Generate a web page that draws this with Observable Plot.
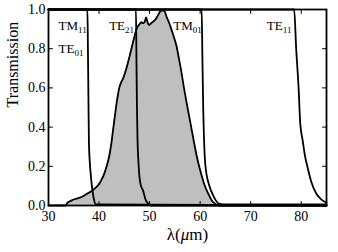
<!DOCTYPE html>
<html>
<head>
<meta charset="utf-8">
<script src="https://cdn.jsdelivr.net/npm/d3@7"></script>
<script src="https://cdn.jsdelivr.net/npm/@observablehq/plot@0.6"></script>
<style>
  html, body { margin: 0; padding: 0; background: #fff; }
  svg { display: block; }
  svg text { font-family: 'Liberation Serif', 'DejaVu Serif', serif !important; font-variant: normal !important; }
</style>
</head>
<body>
<div id="chart"></div>
<script>
// Measured transmission (gray filled)
const measLambda = [30, 33.4, 33.7, 34.5, 35.4, 36.2, 37.0, 37.8, 38.7, 39.4, 40.0, 40.5, 41.0, 41.5, 42.0, 42.4, 42.7, 43.0, 43.35, 43.7, 44.0, 44.4, 44.7, 45.3, 46.0, 46.7, 47.3, 47.7, 48.0, 48.4, 48.7, 49.0, 49.3, 49.6, 49.9, 50.3, 50.8, 51.2, 51.65, 52.3, 52.85, 53.4, 53.9, 54.3, 54.8, 55.3, 55.8, 56.3, 56.8, 57.3, 57.8, 58.3, 58.8, 59.3, 59.8, 60.3, 60.8, 61.3, 61.8, 62.3, 62.8, 63.3, 63.8, 85];
const measTrans  = [0, 0, 0.012, 0.025, 0.034, 0.04, 0.05, 0.062, 0.077, 0.092, 0.11, 0.132, 0.16, 0.2, 0.25, 0.31, 0.37, 0.43, 0.5, 0.56, 0.6, 0.63, 0.645, 0.69, 0.757, 0.83, 0.89, 0.915, 0.925, 0.935, 0.93, 0.935, 0.96, 0.935, 0.92, 0.93, 0.94, 0.95, 0.97, 0.995, 0.995, 0.96, 0.93, 0.9, 0.86, 0.816, 0.75, 0.68, 0.6, 0.527, 0.46, 0.39, 0.32, 0.255, 0.2, 0.153, 0.11, 0.077, 0.05, 0.026, 0.012, 0.004, 0, 0];

// Waveguide mode cutoff curves
const tm11Lambda = [30, 37.7, 37.8, 37.9, 38.0, 38.2, 38.4, 38.7, 39.0, 39.4, 85];
const tm11Trans  = [1, 1, 0.8, 0.55, 0.315, 0.21, 0.145, 0.077, 0.03, 0.005, 0];

const te21Lambda = [30, 47.3, 47.4, 47.5, 47.6, 47.8, 48.0, 48.3, 48.7, 49.2, 49.7, 50.2, 85];
const te21Trans  = [1, 1, 0.75, 0.5, 0.35, 0.22, 0.145, 0.1, 0.077, 0.03, 0.01, 0, 0];

const tm01Lambda = [30, 60.3, 60.45, 60.6, 60.9, 61.2, 61.6, 62.1, 62.6, 63.2, 63.9, 65, 85];
const tm01Trans  = [1, 1, 0.75, 0.51, 0.255, 0.17, 0.12, 0.08, 0.05, 0.022, 0.008, 0.005, 0.005];

const te11Lambda = [30, 78.6, 79.0, 79.5, 79.8, 80.3, 80.7, 81.2, 82.0, 83.0, 84.0, 85];
const te11Trans  = [1, 1, 0.8, 0.59, 0.42, 0.33, 0.26, 0.2, 0.12, 0.06, 0.03, 0.015];

// Mode labels
const labelText   = ["TM_11", "TE_01", "TE_21", "TM_01", "TE_11"];
const labelLambda = [32.0, 32.0, 42.0, 54.7, 73.2];
const labelTrans  = [0.915, 0.80, 0.915, 0.915, 0.915];

// Ticks
const xTicks = [30, 40, 50, 60, 70, 80];
const yTicks = [0.0, 0.2, 0.4, 0.6, 0.8, 1.0];

const toRows = (xs, ys) => xs.map((x, i) => ({x, y: ys[i]}));
const meas = toRows(measLambda, measTrans);
const curves = [toRows(tm11Lambda, tm11Trans), toRows(te21Lambda, te21Trans), toRows(tm01Lambda, tm01Trans), toRows(te11Lambda, te11Trans)];
const labels = labelText.map((t, i) => ({t, x: labelLambda[i], y: labelTrans[i]}));

const tickShape = {draw(context, l) { context.moveTo(0, 0); context.lineTo(0, -l); }};
const font = "'Liberation Serif', 'DejaVu Serif', serif";

const plot = Plot.plot({
  width: 338,
  height: 252,
  marginLeft: 48,
  marginRight: 12,
  marginTop: 9,
  marginBottom: 47,
  style: {fontFamily: font, fontSize: "13px", color: "black", background: "white"},
  x: {domain: [30, 85], label: null},
  y: {domain: [0, 1], label: null},
  marks: [
    Plot.areaY(meas, {x: "x", y: "y", fill: "#bfbfbf", curve: "linear"}),
    Plot.lineY(meas, {x: "x", y: "y", stroke: "black", strokeWidth: 1.8, curve: "monotone-x"}),
    ...curves.map(c => Plot.line(c, {x: "x", y: "y", stroke: "black", strokeWidth: 1.8, curve: "monotone-x"})),
    // inward ticks on all four sides
    Plot.vector(xTicks, {x: d => d, y: 0, length: 4, rotate: 0, anchor: "start", shape: tickShape, stroke: "black", strokeWidth: 1}),
    Plot.vector(xTicks, {x: d => d, y: 1, length: 4, rotate: 180, anchor: "start", shape: tickShape, stroke: "black", strokeWidth: 1}),
    Plot.vector(yTicks, {x: 30, y: d => d, length: 4, rotate: 90, anchor: "start", shape: tickShape, stroke: "black", strokeWidth: 1}),
    Plot.vector(yTicks, {x: 85, y: d => d, length: 4, rotate: -90, anchor: "start", shape: tickShape, stroke: "black", strokeWidth: 1}),
    Plot.axisX(xTicks, {tickSize: 0, tickPadding: 6, tickFormat: d => String(d), fontSize: 14, fontFamily: font, label: null}),
    Plot.axisY(yTicks, {tickSize: 0, tickPadding: 3, tickFormat: d => d.toFixed(1), fontSize: 14, fontFamily: font, label: null}),
    Plot.text(labels, {x: "x", y: "y", text: "t", textAnchor: "start", fontSize: 13, fill: "black", className: "modelabel"}),
    Plot.frame({stroke: "black", strokeWidth: 1.8}),
    Plot.text(["Transmission"], {frameAnchor: "left", dx: -36, rotate: -90, fontSize: 16, fill: "black"}),
    Plot.text(["λ(μm)"], {frameAnchor: "bottom", dy: 34, fontSize: 17, fill: "black", className: "xlabel"})
  ]
});

// Subscripts for mode labels, italic mu
d3.select(plot).selectAll(".modelabel text").each(function() {
  const s = this.textContent;
  const [base, sub] = s.split("_");
  const sel = d3.select(this);
  sel.text(null);
  sel.append("tspan").text(base);
  sel.append("tspan").attr("dy", "0.3em").attr("font-size", "9px").text(sub);
});
d3.select(plot).selectAll(".xlabel text").each(function() {
  const sel = d3.select(this);
  sel.text(null);
  sel.append("tspan").text("λ(");
  sel.append("tspan").attr("font-style", "italic").text("μ");
  sel.append("tspan").text("m)");
});

document.getElementById("chart").appendChild(plot);
</script>
</body>
</html>
